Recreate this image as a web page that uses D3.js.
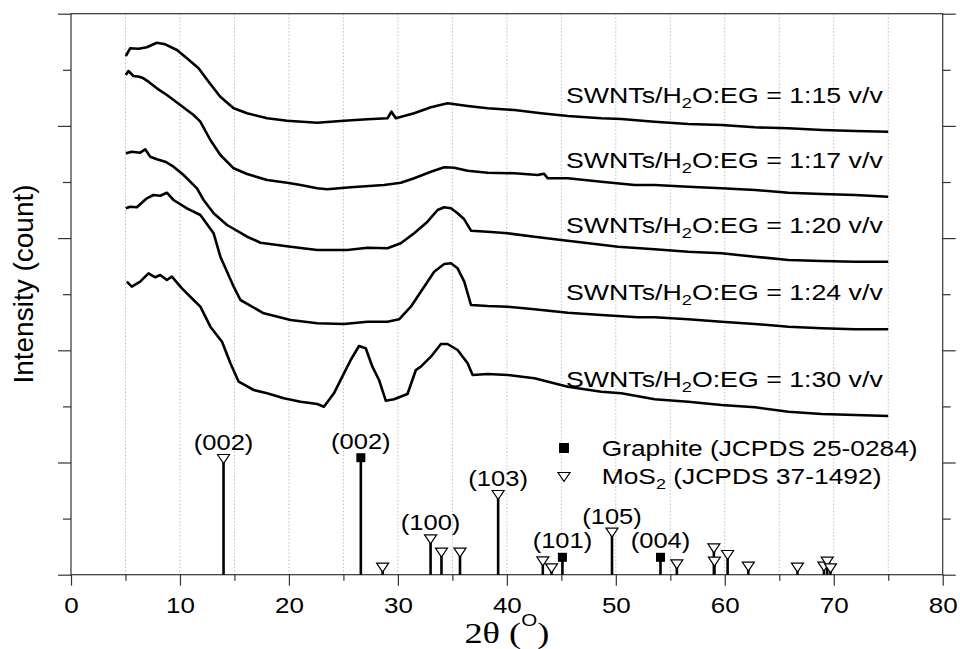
<!DOCTYPE html>
<html>
<head>
<meta charset="utf-8">
<script src="https://cdn.jsdelivr.net/npm/d3@7"></script>
<style>
  body { margin: 0; background: #fff; }
  svg { display: block; }
  text { font-family: "Liberation Sans", Arial, sans-serif; fill: #000; }
</style>
</head>
<body>
<div id="chart"></div>
<script>
// XRD patterns: [2theta, intensity (arbitrary counts)]
const s15 = [[5.03,518.7],[5.43,526.4],[6.2,526],[6.96,527.4],[7.88,532],[8.65,530.4],[9.72,524.7],[10.64,516.4],[11.71,506.4],[12.63,493],[13.7,478],[14.93,466.4],[16.16,461.4],[18.0,456.4],[19.84,454],[22.6,452],[25.05,454],[27.2,455.4],[29.04,456.4],[29.41,463],[29.81,456.4],[31.49,461.4],[33.03,467.4],[34.56,471.4],[36.4,468.7],[38.24,466.4],[40.69,464.7],[43.15,461.4],[45.6,458.7],[48.67,456.4],[50.5,455.7],[53.54,453],[56.64,450.7],[59.7,449.7],[62.74,447.4],[65.84,446.4],[68.94,444.7],[71.98,443.7],[75,443]];
const s17 = [[5.03,499.7],[5.27,503.7],[5.73,498.7],[6.28,498],[6.65,496.4],[7.11,493],[7.88,486.4],[8.8,479.7],[10.03,469.7],[11.25,459.7],[11.87,453],[12.79,434.7],[13.71,419.7],[14.93,406.4],[16.16,400.7],[18.0,394.7],[19.84,392],[21.07,389.7],[22.6,386.4],[23.52,385.4],[25.67,387.4],[28.73,389.7],[30.27,392],[31.49,396.4],[33.03,403],[34.25,407.4],[35.17,407],[36.4,404],[38.24,402],[40.69,401.4],[42.84,399.7],[43.4,401],[43.76,396.4],[45.6,396.4],[48.67,393],[51.73,389.7],[53.57,389.7],[56.64,388],[59.7,386.4],[62.77,384.7],[65.84,382],[68.9,380.7],[71.97,379.7],[75,378]];
const s20 = [[5.03,421.4],[5.58,423],[6.35,422],[6.81,425.4],[7.27,418],[7.88,415.4],[8.65,413],[9.41,408],[10.33,399.7],[11.56,386.4],[12.17,374.7],[13.09,361.4],[14.32,349.7],[16.16,338],[17.39,332],[20.15,328],[22.6,324.7],[25.36,324.7],[27.2,327],[29.04,326.4],[30.27,331.4],[31.49,341.4],[32.72,353],[33.64,364.7],[34.25,367.4],[34.87,366.4],[35.48,361.4],[36.09,355.4],[36.71,344],[38.24,343],[40.08,341.4],[42.53,338],[44.99,334.7],[47.13,332],[50.2,328],[53.57,325.4],[56.64,323],[59.7,321.4],[62.77,318],[65.84,314.7],[68.9,313.7],[71.97,313],[75,313]];
const s24 = [[5.03,366.4],[5.43,368],[6.04,367.4],[6.96,376.4],[7.57,379.7],[8.19,379],[8.8,382],[9.41,374.7],[10.64,366.4],[11.87,359.7],[13.09,341.4],[13.71,318],[14.93,288],[15.55,274.7],[17.69,261.4],[20.15,254.7],[22.6,251.4],[25.05,250.7],[27.2,253],[29.04,253],[30.11,255.4],[31.19,268],[32.41,288],[33.33,303],[34.25,310.7],[34.87,311.4],[35.48,306.4],[36.09,293],[36.71,269.7],[38.24,268.7],[40.08,268],[42.53,265.4],[45.6,262],[48.67,259.7],[52.04,257.4],[53.57,257.4],[56.64,255.4],[59.7,253],[62.77,250.7],[65.84,248],[68.9,246.4],[71.97,245.4],[75,245.4]];
const s30 = [[5.12,293],[5.58,288],[6.35,293],[7.11,301.4],[7.73,297.4],[8.19,299.7],[8.8,294.7],[9.26,298],[10.18,286.4],[11.25,274.7],[11.87,268],[12.79,248],[13.86,233],[14.63,211.4],[15.39,193],[16.77,184.7],[18.0,181.4],[19.53,176.4],[21.07,173],[22.6,170.7],[23.21,168],[24.13,181.4],[25.05,201.4],[25.67,214.7],[26.43,228.7],[27.05,226.4],[27.66,208],[28.27,194.7],[28.89,174],[29.65,175.4],[30.88,180.7],[31.65,204.7],[32.11,208],[33.03,218],[33.95,230.7],[34.56,230.7],[35.48,224.7],[36.4,211.4],[36.86,199.7],[38.24,200.7],[40.08,199.7],[42.53,196.4],[45.6,188],[48.67,183],[50.51,181.4],[53.57,175.4],[56.64,173],[59.7,169.7],[62.77,167.4],[65.84,163],[68.9,160.7],[71.97,159.7],[75,158.7]];

const seriesList = [s15, s17, s20, s24, s30];
const ratios = ["1:15", "1:17", "1:20", "1:24", "1:30"];

// reference patterns: 2theta, relative intensity, hkl
const graphite = [
  { t: 26.6, v: 117, hkl: "(002)" },
  { t: 45.1, v: 17.4, hkl: "(101)" },
  { t: 54.1, v: 17.4, hkl: "(004)" }
];
const mos2 = [
  { t: 14.0, v: 115.7, hkl: "(002)" },
  { t: 28.6, v: 7 },
  { t: 33.0, v: 35.4, hkl: "(100)" },
  { t: 34.0, v: 22 },
  { t: 35.7, v: 22 },
  { t: 39.2, v: 79.7, hkl: "(103)" },
  { t: 43.3, v: 13.4 },
  { t: 44.1, v: 6.4 },
  { t: 49.65, v: 42, hkl: "(105)" },
  { t: 55.6, v: 10.4 },
  { t: 59.0, v: 26.4 },
  { t: 59.05, v: 13 },
  { t: 60.26, v: 19.7 },
  { t: 62.16, v: 8 },
  { t: 66.67, v: 7 },
  { t: 69.1, v: 8 },
  { t: 69.4, v: 13 },
  { t: 69.7, v: 6.4 }
];

const xMajor = [0, 10, 20, 30, 40, 50, 60, 70, 80];
const xMinor = [5, 15, 25, 35, 45, 55, 65, 75];
const xGrid = [5, 10, 15, 20, 25, 30, 35, 40, 45, 50, 55, 60, 65, 70, 75];

const margin = { top: 13.7, right: 17.3, bottom: 74.3, left: 71 };
const width = 960 - margin.left - margin.right;
const height = 649 - margin.top - margin.bottom;
const stretch = 1.18;

const yMajor = d3.range(6).map((i) => i * 112.2);
const yMinor = d3.range(5).map((i) => 56.1 + i * 112.2);

const svg = d3
  .select("#chart")
  .append("svg")
  .attr("width", 960)
  .attr("height", 649);

const g = svg
  .append("g")
  .attr("transform", `translate(${margin.left},${margin.top})`);

const x = d3.scaleLinear().domain([0, 80]).range([0, width]);
const y = d3.scaleLinear().domain([0, 561]).range([height, 0]);

// dotted grid
g.selectAll(".grid")
  .data(xGrid)
  .enter()
  .append("line")
  .attr("x1", (d) => x(d))
  .attr("x2", (d) => x(d))
  .attr("y1", 0)
  .attr("y2", height)
  .attr("stroke", "#bdbdbd")
  .attr("stroke-width", 1)
  .attr("stroke-dasharray", "1.5,2");

// axes
const axisColor = "#333";
function styleAxis(sel) {
  sel.select(".domain").remove();
  sel.selectAll("line").attr("stroke", axisColor).attr("stroke-width", 1.2);
}

g.append("g")
  .attr("transform", `translate(0,${height})`)
  .call(d3.axisBottom(x).tickValues(xMajor).tickSize(11).tickPadding(12).tickFormat(d3.format("d")))
  .call(styleAxis)
  .call((s) =>
    s.selectAll("text")
      .attr("font-size", 22)
      .attr("font-family", '"Liberation Sans", Arial, sans-serif')
      .attr("fill", "#000")
      .attr("transform", `scale(${stretch},1)`)
  );

g.append("g")
  .attr("transform", `translate(0,${height})`)
  .call(d3.axisBottom(x).tickValues(xMinor).tickSize(6).tickFormat(""))
  .call(styleAxis);

g.append("g")
  .call(d3.axisLeft(y).tickValues(yMajor).tickSize(13).tickFormat(""))
  .call(styleAxis);
g.append("g")
  .call(d3.axisLeft(y).tickValues(yMinor).tickSize(8).tickFormat(""))
  .call(styleAxis);
g.append("g")
  .attr("transform", `translate(${width},0)`)
  .call(d3.axisRight(y).tickValues(yMajor).tickSize(13).tickFormat(""))
  .call(styleAxis);
g.append("g")
  .attr("transform", `translate(${width},0)`)
  .call(d3.axisRight(y).tickValues(yMinor).tickSize(8).tickFormat(""))
  .call(styleAxis);

// frame
g.append("rect")
  .attr("width", width)
  .attr("height", height)
  .attr("fill", "none")
  .attr("stroke", axisColor)
  .attr("stroke-width", 1.2);

// reference sticks
const sticks = graphite.concat(mos2);
g.selectAll(".stick")
  .data(sticks)
  .enter()
  .append("line")
  .attr("x1", (d) => x(d.t))
  .attr("x2", (d) => x(d.t))
  .attr("y1", y(0))
  .attr("y2", (d) => y(d.v))
  .attr("stroke", "#000")
  .attr("stroke-width", 2.6);

const tri = (cx, cy) =>
  `M${cx - 6},${cy - 4.5}L${cx + 6},${cy - 4.5}L${cx},${cy + 4.5}Z`;

g.selectAll(".tri")
  .data(mos2)
  .enter()
  .append("path")
  .attr("d", (d) => tri(x(d.t), y(d.v)))
  .attr("fill", "#fff")
  .attr("stroke", "#000")
  .attr("stroke-width", 1.2);

g.selectAll(".sq")
  .data(graphite)
  .enter()
  .append("rect")
  .attr("x", (d) => x(d.t) - 4.5)
  .attr("y", (d) => y(d.v) - 4.5)
  .attr("width", 9)
  .attr("height", 9)
  .attr("fill", "#000");

// hkl labels
g.selectAll(".hkl")
  .data(sticks.filter((d) => d.hkl))
  .enter()
  .append("text")
  .attr("text-anchor", "middle")
  .attr("font-size", 22)
  .attr("transform", (d) => `translate(${x(d.t)},${y(d.v) - 9}) scale(${stretch - 0.02},1)`)
  .text((d) => d.hkl);

// XRD curves
const line = d3
  .line()
  .x((d) => x(d[0]))
  .y((d) => y(d[1]));

g.selectAll(".curve")
  .data(seriesList)
  .enter()
  .append("path")
  .attr("d", line)
  .attr("fill", "none")
  .attr("stroke", "#000")
  .attr("stroke-width", 2.6)
  .attr("stroke-linejoin", "round");

function fit(t, target, ax, ay) {
  const w = t.node().getBBox().width;
  t.attr("transform", `translate(${ax},${ay}) scale(${target / w},1)`);
}

// series labels, sitting above the tail of each curve
seriesList.forEach((s, i) => {
  const t = g.append("text").attr("text-anchor", "end").attr("font-size", 22);
  t.append("tspan").text("SWNTs/H");
  t.append("tspan").attr("font-size", 15).attr("dy", 5).text("2");
  t.append("tspan").attr("dy", -5).text(`O:EG = ${ratios[i]} v/v`);
  const last = s[s.length - 1];
  fit(t, 317, x(74.5), y(last[1]) - 29);
});

// legend
const lg = svg.append("g");
lg.append("rect")
  .attr("x", 559)
  .attr("y", 443)
  .attr("width", 10)
  .attr("height", 10)
  .attr("fill", "#000");
lg.append("path")
  .attr("d", tri(564, 477))
  .attr("fill", "#fff")
  .attr("stroke", "#000")
  .attr("stroke-width", 1.2);
const lt1 = lg.append("text").attr("font-size", 22).text("Graphite (JCPDS 25-0284)");
fit(lt1, 316, 601.7, 456);
const lt2 = lg.append("text").attr("font-size", 22);
lt2.append("tspan").text("MoS");
lt2.append("tspan").attr("font-size", 15).attr("dy", 5).text("2");
lt2.append("tspan").attr("dy", -5).text(" (JCPDS 37-1492)");
fit(lt2, 280, 601.7, 484);

// axis titles
const xt = svg
  .append("text")
  .attr("text-anchor", "middle")
  .attr("font-size", 30)
  .style("font-family", '"Liberation Serif", "Times New Roman", serif');
xt.append("tspan").text("2\u03B8 (");
xt.append("tspan")
  .attr("font-size", 17)
  .attr("dy", -17)
  .style("font-family", '"Liberation Sans", Arial, sans-serif')
  .text("O");
xt.append("tspan").attr("dy", 17).text(")");
fit(xt, 85, margin.left + width / 2, 643);

svg
  .append("text")
  .attr("text-anchor", "middle")
  .attr("font-size", 28)
  .attr("transform", "translate(33,284) rotate(-90)")
  .text("Intensity (count)");
</script>
</body>
</html>
